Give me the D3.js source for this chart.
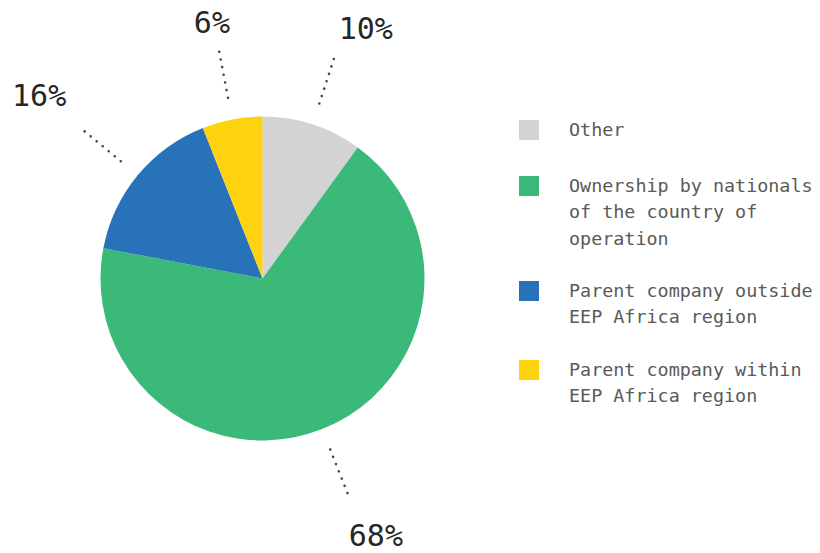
<!DOCTYPE html>
<html>
<head>
<meta charset="utf-8">
<script src="https://cdn.jsdelivr.net/npm/d3@7"></script>
<style>
  html, body { margin: 0; padding: 0; background: #fff; }
  svg { display: block; }
</style>
</head>
<body>
<svg id="chart" width="820" height="553"></svg>
<script>
// Ownership structure of supported companies (share, %)
const categories = [
  "Other",
  "Ownership by nationals of the country of operation",
  "Parent company outside EEP Africa region",
  "Parent company within EEP Africa region"
];
const shares = [10, 68, 16, 6];
const legendLines = [
  ["Other"],
  ["Ownership by nationals", "of the country of", "operation"],
  ["Parent company outside", "EEP Africa region"],
  ["Parent company within", "EEP Africa region"]
];
const colors = ["#d3d3d3", "#3bb978", "#2872b9", "#fdd20e"];

const svg = d3.select("#chart");
const cx = 262.5, cy = 278.5, radius = 162;
const mono = "'DejaVu Sans Mono', 'Liberation Mono', monospace";

const data = categories.map((c, i) => ({ name: c, value: shares[i], color: colors[i] }));

const pie = d3.pie().value(d => d.value).sort(null);
const arcs = pie(data);
const arc = d3.arc().innerRadius(0).outerRadius(radius);

const g = svg.append("g").attr("transform", `translate(${cx},${cy})`);

g.selectAll("path.slice")
  .data(arcs)
  .join("path")
  .attr("class", "slice")
  .attr("d", arc)
  .attr("fill", d => d.data.color);

// polar helper: angle measured clockwise from 12 o'clock
const polar = (a, r) => [Math.sin(a) * r, -Math.cos(a) * r];
const mid = d => (d.startAngle + d.endAngle) / 2;

// dotted leader lines
g.selectAll("line.leader")
  .data(arcs)
  .join("line")
  .attr("class", "leader")
  .attr("x1", d => polar(mid(d), 184)[0])
  .attr("y1", d => polar(mid(d), 184)[1])
  .attr("x2", d => polar(mid(d), 234)[0])
  .attr("y2", d => polar(mid(d), 234)[1])
  .attr("stroke", "#444")
  .attr("stroke-width", 2.6)
  .attr("stroke-linecap", "round")
  .attr("stroke-dasharray", "0 7.8");

// percentage labels, placed beyond the leader ends
const fmt = d3.format(".0f");
const labelPos = d => {
  const a = mid(d), s = Math.sin(a), c = Math.cos(a);
  const p = polar(a, 270);
  const side = Math.abs(s) > 0.25 ? Math.sign(s) : 0;
  const xOff = side * (14 + 9 * Math.max(0, c) * (1 - Math.abs(s)));
  const yOff = 21 * (1 - 1.7 * s * s);
  return [p[0] + xOff, p[1] + yOff];
};
g.selectAll("text.pct")
  .data(arcs)
  .join("text")
  .attr("class", "pct")
  .attr("x", d => labelPos(d)[0])
  .attr("y", d => labelPos(d)[1])
  .attr("text-anchor", "middle")
  .attr("font-family", mono)
  .attr("font-size", 30)
  .attr("fill", "#262626")
  .text(d => fmt(d.data.value) + "%");

// legend
const legendX = 519, textX = 569;
const legendTops = [120, 176, 281, 360];
const lineH = 26.3;
const legend = svg.append("g");
const items = legend.selectAll("g.item")
  .data(data)
  .join("g")
  .attr("class", "item")
  .attr("transform", (d, i) => `translate(0,${legendTops[i]})`);

items.append("rect")
  .attr("x", legendX)
  .attr("y", 0)
  .attr("width", 20)
  .attr("height", 20)
  .attr("fill", d => d.color);

items.append("text")
  .attr("font-family", mono)
  .attr("font-size", 18.4)
  .attr("fill", "#5a5a5a")
  .selectAll("tspan")
  .data((d, i) => legendLines[i])
  .join("tspan")
  .attr("x", textX)
  .attr("y", (t, j) => 16 + j * lineH)
  .text(t => t);
</script>
</body>
</html>
